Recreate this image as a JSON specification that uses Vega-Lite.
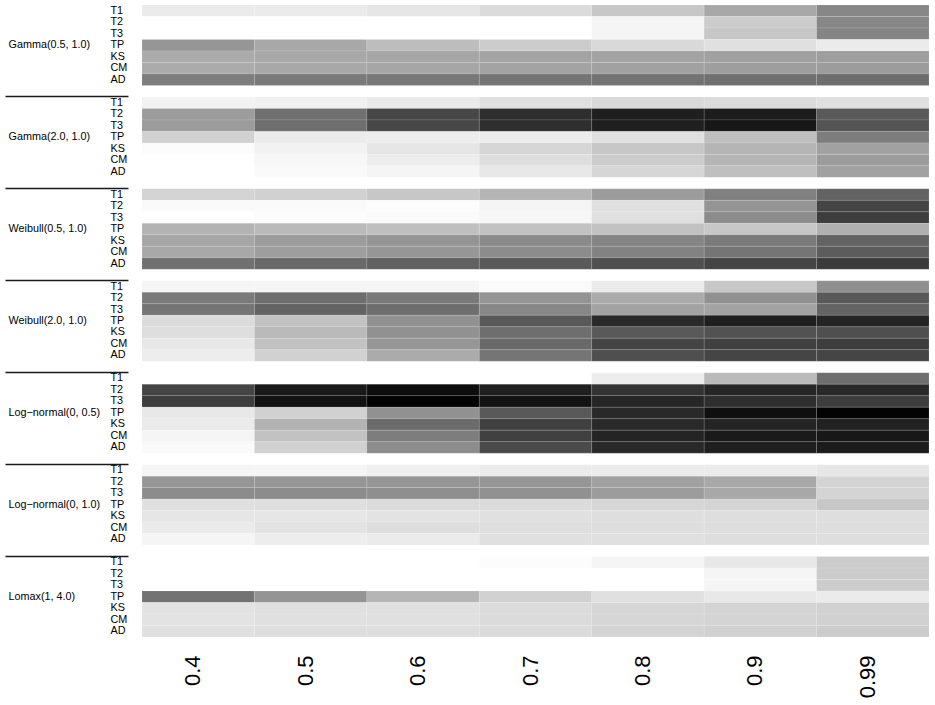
{
  "$schema": "https://vega.github.io/schema/vega-lite/v6.json",
  "width": 787,
  "height": 632,
  "autosize": "none",
  "padding": {"left": 142, "top": 5, "right": 6, "bottom": 68},
  "background": "#ffffff",
  "config": {"view": {"stroke": null}, "font": "Liberation Sans"},
  "data": {"values": [
    {"dist":"Gamma(0.5, 1.0)","test":"T1","level":"0.4","power":0.08},{"dist":"Gamma(0.5, 1.0)","test":"T1","level":"0.5","power":0.08},{"dist":"Gamma(0.5, 1.0)","test":"T1","level":"0.6","power":0.10},{"dist":"Gamma(0.5, 1.0)","test":"T1","level":"0.7","power":0.14},{"dist":"Gamma(0.5, 1.0)","test":"T1","level":"0.8","power":0.22},{"dist":"Gamma(0.5, 1.0)","test":"T1","level":"0.9","power":0.34},{"dist":"Gamma(0.5, 1.0)","test":"T1","level":"0.99","power":0.47},
    {"dist":"Gamma(0.5, 1.0)","test":"T2","level":"0.4","power":0.0},{"dist":"Gamma(0.5, 1.0)","test":"T2","level":"0.5","power":0.0},{"dist":"Gamma(0.5, 1.0)","test":"T2","level":"0.6","power":0.0},{"dist":"Gamma(0.5, 1.0)","test":"T2","level":"0.7","power":0.0},{"dist":"Gamma(0.5, 1.0)","test":"T2","level":"0.8","power":0.04},{"dist":"Gamma(0.5, 1.0)","test":"T2","level":"0.9","power":0.20},{"dist":"Gamma(0.5, 1.0)","test":"T2","level":"0.99","power":0.47},
    {"dist":"Gamma(0.5, 1.0)","test":"T3","level":"0.4","power":0.0},{"dist":"Gamma(0.5, 1.0)","test":"T3","level":"0.5","power":0.0},{"dist":"Gamma(0.5, 1.0)","test":"T3","level":"0.6","power":0.0},{"dist":"Gamma(0.5, 1.0)","test":"T3","level":"0.7","power":0.0},{"dist":"Gamma(0.5, 1.0)","test":"T3","level":"0.8","power":0.04},{"dist":"Gamma(0.5, 1.0)","test":"T3","level":"0.9","power":0.22},{"dist":"Gamma(0.5, 1.0)","test":"T3","level":"0.99","power":0.48},
    {"dist":"Gamma(0.5, 1.0)","test":"TP","level":"0.4","power":0.41},{"dist":"Gamma(0.5, 1.0)","test":"TP","level":"0.5","power":0.34},{"dist":"Gamma(0.5, 1.0)","test":"TP","level":"0.6","power":0.26},{"dist":"Gamma(0.5, 1.0)","test":"TP","level":"0.7","power":0.20},{"dist":"Gamma(0.5, 1.0)","test":"TP","level":"0.8","power":0.15},{"dist":"Gamma(0.5, 1.0)","test":"TP","level":"0.9","power":0.12},{"dist":"Gamma(0.5, 1.0)","test":"TP","level":"0.99","power":0.08},
    {"dist":"Gamma(0.5, 1.0)","test":"KS","level":"0.4","power":0.33},{"dist":"Gamma(0.5, 1.0)","test":"KS","level":"0.5","power":0.34},{"dist":"Gamma(0.5, 1.0)","test":"KS","level":"0.6","power":0.35},{"dist":"Gamma(0.5, 1.0)","test":"KS","level":"0.7","power":0.36},{"dist":"Gamma(0.5, 1.0)","test":"KS","level":"0.8","power":0.36},{"dist":"Gamma(0.5, 1.0)","test":"KS","level":"0.9","power":0.37},{"dist":"Gamma(0.5, 1.0)","test":"KS","level":"0.99","power":0.38},
    {"dist":"Gamma(0.5, 1.0)","test":"CM","level":"0.4","power":0.33},{"dist":"Gamma(0.5, 1.0)","test":"CM","level":"0.5","power":0.34},{"dist":"Gamma(0.5, 1.0)","test":"CM","level":"0.6","power":0.35},{"dist":"Gamma(0.5, 1.0)","test":"CM","level":"0.7","power":0.36},{"dist":"Gamma(0.5, 1.0)","test":"CM","level":"0.8","power":0.37},{"dist":"Gamma(0.5, 1.0)","test":"CM","level":"0.9","power":0.38},{"dist":"Gamma(0.5, 1.0)","test":"CM","level":"0.99","power":0.39},
    {"dist":"Gamma(0.5, 1.0)","test":"AD","level":"0.4","power":0.51},{"dist":"Gamma(0.5, 1.0)","test":"AD","level":"0.5","power":0.52},{"dist":"Gamma(0.5, 1.0)","test":"AD","level":"0.6","power":0.53},{"dist":"Gamma(0.5, 1.0)","test":"AD","level":"0.7","power":0.54},{"dist":"Gamma(0.5, 1.0)","test":"AD","level":"0.8","power":0.55},{"dist":"Gamma(0.5, 1.0)","test":"AD","level":"0.9","power":0.56},{"dist":"Gamma(0.5, 1.0)","test":"AD","level":"0.99","power":0.57},

    {"dist":"Gamma(2.0, 1.0)","test":"T1","level":"0.4","power":0.05},{"dist":"Gamma(2.0, 1.0)","test":"T1","level":"0.5","power":0.06},{"dist":"Gamma(2.0, 1.0)","test":"T1","level":"0.6","power":0.08},{"dist":"Gamma(2.0, 1.0)","test":"T1","level":"0.7","power":0.12},{"dist":"Gamma(2.0, 1.0)","test":"T1","level":"0.8","power":0.15},{"dist":"Gamma(2.0, 1.0)","test":"T1","level":"0.9","power":0.14},{"dist":"Gamma(2.0, 1.0)","test":"T1","level":"0.99","power":0.12},
    {"dist":"Gamma(2.0, 1.0)","test":"T2","level":"0.4","power":0.39},{"dist":"Gamma(2.0, 1.0)","test":"T2","level":"0.5","power":0.56},{"dist":"Gamma(2.0, 1.0)","test":"T2","level":"0.6","power":0.72},{"dist":"Gamma(2.0, 1.0)","test":"T2","level":"0.7","power":0.82},{"dist":"Gamma(2.0, 1.0)","test":"T2","level":"0.8","power":0.88},{"dist":"Gamma(2.0, 1.0)","test":"T2","level":"0.9","power":0.89},{"dist":"Gamma(2.0, 1.0)","test":"T2","level":"0.99","power":0.65},
    {"dist":"Gamma(2.0, 1.0)","test":"T3","level":"0.4","power":0.39},{"dist":"Gamma(2.0, 1.0)","test":"T3","level":"0.5","power":0.57},{"dist":"Gamma(2.0, 1.0)","test":"T3","level":"0.6","power":0.72},{"dist":"Gamma(2.0, 1.0)","test":"T3","level":"0.7","power":0.82},{"dist":"Gamma(2.0, 1.0)","test":"T3","level":"0.8","power":0.88},{"dist":"Gamma(2.0, 1.0)","test":"T3","level":"0.9","power":0.91},{"dist":"Gamma(2.0, 1.0)","test":"T3","level":"0.99","power":0.67},
    {"dist":"Gamma(2.0, 1.0)","test":"TP","level":"0.4","power":0.18},{"dist":"Gamma(2.0, 1.0)","test":"TP","level":"0.5","power":0.08},{"dist":"Gamma(2.0, 1.0)","test":"TP","level":"0.6","power":0.07},{"dist":"Gamma(2.0, 1.0)","test":"TP","level":"0.7","power":0.07},{"dist":"Gamma(2.0, 1.0)","test":"TP","level":"0.8","power":0.12},{"dist":"Gamma(2.0, 1.0)","test":"TP","level":"0.9","power":0.25},{"dist":"Gamma(2.0, 1.0)","test":"TP","level":"0.99","power":0.51},
    {"dist":"Gamma(2.0, 1.0)","test":"KS","level":"0.4","power":0.01},{"dist":"Gamma(2.0, 1.0)","test":"KS","level":"0.5","power":0.05},{"dist":"Gamma(2.0, 1.0)","test":"KS","level":"0.6","power":0.10},{"dist":"Gamma(2.0, 1.0)","test":"KS","level":"0.7","power":0.16},{"dist":"Gamma(2.0, 1.0)","test":"KS","level":"0.8","power":0.22},{"dist":"Gamma(2.0, 1.0)","test":"KS","level":"0.9","power":0.29},{"dist":"Gamma(2.0, 1.0)","test":"KS","level":"0.99","power":0.37},
    {"dist":"Gamma(2.0, 1.0)","test":"CM","level":"0.4","power":0.0},{"dist":"Gamma(2.0, 1.0)","test":"CM","level":"0.5","power":0.03},{"dist":"Gamma(2.0, 1.0)","test":"CM","level":"0.6","power":0.07},{"dist":"Gamma(2.0, 1.0)","test":"CM","level":"0.7","power":0.13},{"dist":"Gamma(2.0, 1.0)","test":"CM","level":"0.8","power":0.20},{"dist":"Gamma(2.0, 1.0)","test":"CM","level":"0.9","power":0.29},{"dist":"Gamma(2.0, 1.0)","test":"CM","level":"0.99","power":0.39},
    {"dist":"Gamma(2.0, 1.0)","test":"AD","level":"0.4","power":0.0},{"dist":"Gamma(2.0, 1.0)","test":"AD","level":"0.5","power":0.02},{"dist":"Gamma(2.0, 1.0)","test":"AD","level":"0.6","power":0.04},{"dist":"Gamma(2.0, 1.0)","test":"AD","level":"0.7","power":0.09},{"dist":"Gamma(2.0, 1.0)","test":"AD","level":"0.8","power":0.16},{"dist":"Gamma(2.0, 1.0)","test":"AD","level":"0.9","power":0.25},{"dist":"Gamma(2.0, 1.0)","test":"AD","level":"0.99","power":0.37},

    {"dist":"Weibull(0.5, 1.0)","test":"T1","level":"0.4","power":0.17},{"dist":"Weibull(0.5, 1.0)","test":"T1","level":"0.5","power":0.18},{"dist":"Weibull(0.5, 1.0)","test":"T1","level":"0.6","power":0.22},{"dist":"Weibull(0.5, 1.0)","test":"T1","level":"0.7","power":0.29},{"dist":"Weibull(0.5, 1.0)","test":"T1","level":"0.8","power":0.39},{"dist":"Weibull(0.5, 1.0)","test":"T1","level":"0.9","power":0.50},{"dist":"Weibull(0.5, 1.0)","test":"T1","level":"0.99","power":0.61},
    {"dist":"Weibull(0.5, 1.0)","test":"T2","level":"0.4","power":0.02},{"dist":"Weibull(0.5, 1.0)","test":"T2","level":"0.5","power":0.02},{"dist":"Weibull(0.5, 1.0)","test":"T2","level":"0.6","power":0.01},{"dist":"Weibull(0.5, 1.0)","test":"T2","level":"0.7","power":0.04},{"dist":"Weibull(0.5, 1.0)","test":"T2","level":"0.8","power":0.12},{"dist":"Weibull(0.5, 1.0)","test":"T2","level":"0.9","power":0.42},{"dist":"Weibull(0.5, 1.0)","test":"T2","level":"0.99","power":0.73},
    {"dist":"Weibull(0.5, 1.0)","test":"T3","level":"0.4","power":0.0},{"dist":"Weibull(0.5, 1.0)","test":"T3","level":"0.5","power":0.01},{"dist":"Weibull(0.5, 1.0)","test":"T3","level":"0.6","power":0.02},{"dist":"Weibull(0.5, 1.0)","test":"T3","level":"0.7","power":0.03},{"dist":"Weibull(0.5, 1.0)","test":"T3","level":"0.8","power":0.12},{"dist":"Weibull(0.5, 1.0)","test":"T3","level":"0.9","power":0.45},{"dist":"Weibull(0.5, 1.0)","test":"T3","level":"0.99","power":0.76},
    {"dist":"Weibull(0.5, 1.0)","test":"TP","level":"0.4","power":0.30},{"dist":"Weibull(0.5, 1.0)","test":"TP","level":"0.5","power":0.27},{"dist":"Weibull(0.5, 1.0)","test":"TP","level":"0.6","power":0.25},{"dist":"Weibull(0.5, 1.0)","test":"TP","level":"0.7","power":0.24},{"dist":"Weibull(0.5, 1.0)","test":"TP","level":"0.8","power":0.24},{"dist":"Weibull(0.5, 1.0)","test":"TP","level":"0.9","power":0.22},{"dist":"Weibull(0.5, 1.0)","test":"TP","level":"0.99","power":0.31},
    {"dist":"Weibull(0.5, 1.0)","test":"KS","level":"0.4","power":0.35},{"dist":"Weibull(0.5, 1.0)","test":"KS","level":"0.5","power":0.39},{"dist":"Weibull(0.5, 1.0)","test":"KS","level":"0.6","power":0.42},{"dist":"Weibull(0.5, 1.0)","test":"KS","level":"0.7","power":0.46},{"dist":"Weibull(0.5, 1.0)","test":"KS","level":"0.8","power":0.48},{"dist":"Weibull(0.5, 1.0)","test":"KS","level":"0.9","power":0.52},{"dist":"Weibull(0.5, 1.0)","test":"KS","level":"0.99","power":0.61},
    {"dist":"Weibull(0.5, 1.0)","test":"CM","level":"0.4","power":0.34},{"dist":"Weibull(0.5, 1.0)","test":"CM","level":"0.5","power":0.38},{"dist":"Weibull(0.5, 1.0)","test":"CM","level":"0.6","power":0.41},{"dist":"Weibull(0.5, 1.0)","test":"CM","level":"0.7","power":0.45},{"dist":"Weibull(0.5, 1.0)","test":"CM","level":"0.8","power":0.49},{"dist":"Weibull(0.5, 1.0)","test":"CM","level":"0.9","power":0.54},{"dist":"Weibull(0.5, 1.0)","test":"CM","level":"0.99","power":0.64},
    {"dist":"Weibull(0.5, 1.0)","test":"AD","level":"0.4","power":0.56},{"dist":"Weibull(0.5, 1.0)","test":"AD","level":"0.5","power":0.59},{"dist":"Weibull(0.5, 1.0)","test":"AD","level":"0.6","power":0.62},{"dist":"Weibull(0.5, 1.0)","test":"AD","level":"0.7","power":0.65},{"dist":"Weibull(0.5, 1.0)","test":"AD","level":"0.8","power":0.69},{"dist":"Weibull(0.5, 1.0)","test":"AD","level":"0.9","power":0.73},{"dist":"Weibull(0.5, 1.0)","test":"AD","level":"0.99","power":0.77},

    {"dist":"Weibull(2.0, 1.0)","test":"T1","level":"0.4","power":0.04},{"dist":"Weibull(2.0, 1.0)","test":"T1","level":"0.5","power":0.04},{"dist":"Weibull(2.0, 1.0)","test":"T1","level":"0.6","power":0.04},{"dist":"Weibull(2.0, 1.0)","test":"T1","level":"0.7","power":0.02},{"dist":"Weibull(2.0, 1.0)","test":"T1","level":"0.8","power":0.08},{"dist":"Weibull(2.0, 1.0)","test":"T1","level":"0.9","power":0.22},{"dist":"Weibull(2.0, 1.0)","test":"T1","level":"0.99","power":0.44},
    {"dist":"Weibull(2.0, 1.0)","test":"T2","level":"0.4","power":0.52},{"dist":"Weibull(2.0, 1.0)","test":"T2","level":"0.5","power":0.57},{"dist":"Weibull(2.0, 1.0)","test":"T2","level":"0.6","power":0.53},{"dist":"Weibull(2.0, 1.0)","test":"T2","level":"0.7","power":0.42},{"dist":"Weibull(2.0, 1.0)","test":"T2","level":"0.8","power":0.33},{"dist":"Weibull(2.0, 1.0)","test":"T2","level":"0.9","power":0.43},{"dist":"Weibull(2.0, 1.0)","test":"T2","level":"0.99","power":0.65},
    {"dist":"Weibull(2.0, 1.0)","test":"T3","level":"0.4","power":0.54},{"dist":"Weibull(2.0, 1.0)","test":"T3","level":"0.5","power":0.61},{"dist":"Weibull(2.0, 1.0)","test":"T3","level":"0.6","power":0.57},{"dist":"Weibull(2.0, 1.0)","test":"T3","level":"0.7","power":0.47},{"dist":"Weibull(2.0, 1.0)","test":"T3","level":"0.8","power":0.36},{"dist":"Weibull(2.0, 1.0)","test":"T3","level":"0.9","power":0.36},{"dist":"Weibull(2.0, 1.0)","test":"T3","level":"0.99","power":0.61},
    {"dist":"Weibull(2.0, 1.0)","test":"TP","level":"0.4","power":0.14},{"dist":"Weibull(2.0, 1.0)","test":"TP","level":"0.5","power":0.24},{"dist":"Weibull(2.0, 1.0)","test":"TP","level":"0.6","power":0.43},{"dist":"Weibull(2.0, 1.0)","test":"TP","level":"0.7","power":0.65},{"dist":"Weibull(2.0, 1.0)","test":"TP","level":"0.8","power":0.84},{"dist":"Weibull(2.0, 1.0)","test":"TP","level":"0.9","power":0.88},{"dist":"Weibull(2.0, 1.0)","test":"TP","level":"0.99","power":0.86},
    {"dist":"Weibull(2.0, 1.0)","test":"KS","level":"0.4","power":0.13},{"dist":"Weibull(2.0, 1.0)","test":"KS","level":"0.5","power":0.27},{"dist":"Weibull(2.0, 1.0)","test":"KS","level":"0.6","power":0.43},{"dist":"Weibull(2.0, 1.0)","test":"KS","level":"0.7","power":0.57},{"dist":"Weibull(2.0, 1.0)","test":"KS","level":"0.8","power":0.65},{"dist":"Weibull(2.0, 1.0)","test":"KS","level":"0.9","power":0.68},{"dist":"Weibull(2.0, 1.0)","test":"KS","level":"0.99","power":0.69},
    {"dist":"Weibull(2.0, 1.0)","test":"CM","level":"0.4","power":0.09},{"dist":"Weibull(2.0, 1.0)","test":"CM","level":"0.5","power":0.24},{"dist":"Weibull(2.0, 1.0)","test":"CM","level":"0.6","power":0.41},{"dist":"Weibull(2.0, 1.0)","test":"CM","level":"0.7","power":0.59},{"dist":"Weibull(2.0, 1.0)","test":"CM","level":"0.8","power":0.73},{"dist":"Weibull(2.0, 1.0)","test":"CM","level":"0.9","power":0.75},{"dist":"Weibull(2.0, 1.0)","test":"CM","level":"0.99","power":0.76},
    {"dist":"Weibull(2.0, 1.0)","test":"AD","level":"0.4","power":0.07},{"dist":"Weibull(2.0, 1.0)","test":"AD","level":"0.5","power":0.18},{"dist":"Weibull(2.0, 1.0)","test":"AD","level":"0.6","power":0.33},{"dist":"Weibull(2.0, 1.0)","test":"AD","level":"0.7","power":0.54},{"dist":"Weibull(2.0, 1.0)","test":"AD","level":"0.8","power":0.69},{"dist":"Weibull(2.0, 1.0)","test":"AD","level":"0.9","power":0.73},{"dist":"Weibull(2.0, 1.0)","test":"AD","level":"0.99","power":0.73},

    {"dist":"Log−normal(0, 0.5)","test":"T1","level":"0.4","power":0.0},{"dist":"Log−normal(0, 0.5)","test":"T1","level":"0.5","power":0.0},{"dist":"Log−normal(0, 0.5)","test":"T1","level":"0.6","power":0.0},{"dist":"Log−normal(0, 0.5)","test":"T1","level":"0.7","power":0.0},{"dist":"Log−normal(0, 0.5)","test":"T1","level":"0.8","power":0.07},{"dist":"Log−normal(0, 0.5)","test":"T1","level":"0.9","power":0.27},{"dist":"Log−normal(0, 0.5)","test":"T1","level":"0.99","power":0.57},
    {"dist":"Log−normal(0, 0.5)","test":"T2","level":"0.4","power":0.73},{"dist":"Log−normal(0, 0.5)","test":"T2","level":"0.5","power":0.90},{"dist":"Log−normal(0, 0.5)","test":"T2","level":"0.6","power":0.95},{"dist":"Log−normal(0, 0.5)","test":"T2","level":"0.7","power":0.88},{"dist":"Log−normal(0, 0.5)","test":"T2","level":"0.8","power":0.80},{"dist":"Log−normal(0, 0.5)","test":"T2","level":"0.9","power":0.85},{"dist":"Log−normal(0, 0.5)","test":"T2","level":"0.99","power":0.84},
    {"dist":"Log−normal(0, 0.5)","test":"T3","level":"0.4","power":0.76},{"dist":"Log−normal(0, 0.5)","test":"T3","level":"0.5","power":0.93},{"dist":"Log−normal(0, 0.5)","test":"T3","level":"0.6","power":0.99},{"dist":"Log−normal(0, 0.5)","test":"T3","level":"0.7","power":0.93},{"dist":"Log−normal(0, 0.5)","test":"T3","level":"0.8","power":0.85},{"dist":"Log−normal(0, 0.5)","test":"T3","level":"0.9","power":0.82},{"dist":"Log−normal(0, 0.5)","test":"T3","level":"0.99","power":0.76},
    {"dist":"Log−normal(0, 0.5)","test":"TP","level":"0.4","power":0.09},{"dist":"Log−normal(0, 0.5)","test":"TP","level":"0.5","power":0.18},{"dist":"Log−normal(0, 0.5)","test":"TP","level":"0.6","power":0.43},{"dist":"Log−normal(0, 0.5)","test":"TP","level":"0.7","power":0.65},{"dist":"Log−normal(0, 0.5)","test":"TP","level":"0.8","power":0.84},{"dist":"Log−normal(0, 0.5)","test":"TP","level":"0.9","power":0.94},{"dist":"Log−normal(0, 0.5)","test":"TP","level":"0.99","power":0.99},
    {"dist":"Log−normal(0, 0.5)","test":"KS","level":"0.4","power":0.08},{"dist":"Log−normal(0, 0.5)","test":"KS","level":"0.5","power":0.30},{"dist":"Log−normal(0, 0.5)","test":"KS","level":"0.6","power":0.58},{"dist":"Log−normal(0, 0.5)","test":"KS","level":"0.7","power":0.75},{"dist":"Log−normal(0, 0.5)","test":"KS","level":"0.8","power":0.84},{"dist":"Log−normal(0, 0.5)","test":"KS","level":"0.9","power":0.86},{"dist":"Log−normal(0, 0.5)","test":"KS","level":"0.99","power":0.87},
    {"dist":"Log−normal(0, 0.5)","test":"CM","level":"0.4","power":0.04},{"dist":"Log−normal(0, 0.5)","test":"CM","level":"0.5","power":0.24},{"dist":"Log−normal(0, 0.5)","test":"CM","level":"0.6","power":0.51},{"dist":"Log−normal(0, 0.5)","test":"CM","level":"0.7","power":0.75},{"dist":"Log−normal(0, 0.5)","test":"CM","level":"0.8","power":0.86},{"dist":"Log−normal(0, 0.5)","test":"CM","level":"0.9","power":0.90},{"dist":"Log−normal(0, 0.5)","test":"CM","level":"0.99","power":0.91},
    {"dist":"Log−normal(0, 0.5)","test":"AD","level":"0.4","power":0.02},{"dist":"Log−normal(0, 0.5)","test":"AD","level":"0.5","power":0.18},{"dist":"Log−normal(0, 0.5)","test":"AD","level":"0.6","power":0.45},{"dist":"Log−normal(0, 0.5)","test":"AD","level":"0.7","power":0.71},{"dist":"Log−normal(0, 0.5)","test":"AD","level":"0.8","power":0.84},{"dist":"Log−normal(0, 0.5)","test":"AD","level":"0.9","power":0.88},{"dist":"Log−normal(0, 0.5)","test":"AD","level":"0.99","power":0.89},

    {"dist":"Log−normal(0, 1.0)","test":"T1","level":"0.4","power":0.04},{"dist":"Log−normal(0, 1.0)","test":"T1","level":"0.5","power":0.04},{"dist":"Log−normal(0, 1.0)","test":"T1","level":"0.6","power":0.06},{"dist":"Log−normal(0, 1.0)","test":"T1","level":"0.7","power":0.08},{"dist":"Log−normal(0, 1.0)","test":"T1","level":"0.8","power":0.08},{"dist":"Log−normal(0, 1.0)","test":"T1","level":"0.9","power":0.08},{"dist":"Log−normal(0, 1.0)","test":"T1","level":"0.99","power":0.10},
    {"dist":"Log−normal(0, 1.0)","test":"T2","level":"0.4","power":0.41},{"dist":"Log−normal(0, 1.0)","test":"T2","level":"0.5","power":0.41},{"dist":"Log−normal(0, 1.0)","test":"T2","level":"0.6","power":0.41},{"dist":"Log−normal(0, 1.0)","test":"T2","level":"0.7","power":0.41},{"dist":"Log−normal(0, 1.0)","test":"T2","level":"0.8","power":0.37},{"dist":"Log−normal(0, 1.0)","test":"T2","level":"0.9","power":0.34},{"dist":"Log−normal(0, 1.0)","test":"T2","level":"0.99","power":0.17},
    {"dist":"Log−normal(0, 1.0)","test":"T3","level":"0.4","power":0.45},{"dist":"Log−normal(0, 1.0)","test":"T3","level":"0.5","power":0.45},{"dist":"Log−normal(0, 1.0)","test":"T3","level":"0.6","power":0.44},{"dist":"Log−normal(0, 1.0)","test":"T3","level":"0.7","power":0.43},{"dist":"Log−normal(0, 1.0)","test":"T3","level":"0.8","power":0.39},{"dist":"Log−normal(0, 1.0)","test":"T3","level":"0.9","power":0.34},{"dist":"Log−normal(0, 1.0)","test":"T3","level":"0.99","power":0.17},
    {"dist":"Log−normal(0, 1.0)","test":"TP","level":"0.4","power":0.12},{"dist":"Log−normal(0, 1.0)","test":"TP","level":"0.5","power":0.13},{"dist":"Log−normal(0, 1.0)","test":"TP","level":"0.6","power":0.14},{"dist":"Log−normal(0, 1.0)","test":"TP","level":"0.7","power":0.14},{"dist":"Log−normal(0, 1.0)","test":"TP","level":"0.8","power":0.16},{"dist":"Log−normal(0, 1.0)","test":"TP","level":"0.9","power":0.17},{"dist":"Log−normal(0, 1.0)","test":"TP","level":"0.99","power":0.22},
    {"dist":"Log−normal(0, 1.0)","test":"KS","level":"0.4","power":0.10},{"dist":"Log−normal(0, 1.0)","test":"KS","level":"0.5","power":0.10},{"dist":"Log−normal(0, 1.0)","test":"KS","level":"0.6","power":0.11},{"dist":"Log−normal(0, 1.0)","test":"KS","level":"0.7","power":0.12},{"dist":"Log−normal(0, 1.0)","test":"KS","level":"0.8","power":0.13},{"dist":"Log−normal(0, 1.0)","test":"KS","level":"0.9","power":0.13},{"dist":"Log−normal(0, 1.0)","test":"KS","level":"0.99","power":0.13},
    {"dist":"Log−normal(0, 1.0)","test":"CM","level":"0.4","power":0.08},{"dist":"Log−normal(0, 1.0)","test":"CM","level":"0.5","power":0.11},{"dist":"Log−normal(0, 1.0)","test":"CM","level":"0.6","power":0.13},{"dist":"Log−normal(0, 1.0)","test":"CM","level":"0.7","power":0.13},{"dist":"Log−normal(0, 1.0)","test":"CM","level":"0.8","power":0.13},{"dist":"Log−normal(0, 1.0)","test":"CM","level":"0.9","power":0.13},{"dist":"Log−normal(0, 1.0)","test":"CM","level":"0.99","power":0.13},
    {"dist":"Log−normal(0, 1.0)","test":"AD","level":"0.4","power":0.04},{"dist":"Log−normal(0, 1.0)","test":"AD","level":"0.5","power":0.07},{"dist":"Log−normal(0, 1.0)","test":"AD","level":"0.6","power":0.08},{"dist":"Log−normal(0, 1.0)","test":"AD","level":"0.7","power":0.12},{"dist":"Log−normal(0, 1.0)","test":"AD","level":"0.8","power":0.12},{"dist":"Log−normal(0, 1.0)","test":"AD","level":"0.9","power":0.13},{"dist":"Log−normal(0, 1.0)","test":"AD","level":"0.99","power":0.13},

    {"dist":"Lomax(1, 4.0)","test":"T1","level":"0.4","power":0.0},{"dist":"Lomax(1, 4.0)","test":"T1","level":"0.5","power":0.0},{"dist":"Lomax(1, 4.0)","test":"T1","level":"0.6","power":0.0},{"dist":"Lomax(1, 4.0)","test":"T1","level":"0.7","power":0.01},{"dist":"Lomax(1, 4.0)","test":"T1","level":"0.8","power":0.04},{"dist":"Lomax(1, 4.0)","test":"T1","level":"0.9","power":0.09},{"dist":"Lomax(1, 4.0)","test":"T1","level":"0.99","power":0.20},
    {"dist":"Lomax(1, 4.0)","test":"T2","level":"0.4","power":0.0},{"dist":"Lomax(1, 4.0)","test":"T2","level":"0.5","power":0.0},{"dist":"Lomax(1, 4.0)","test":"T2","level":"0.6","power":0.0},{"dist":"Lomax(1, 4.0)","test":"T2","level":"0.7","power":0.0},{"dist":"Lomax(1, 4.0)","test":"T2","level":"0.8","power":0.0},{"dist":"Lomax(1, 4.0)","test":"T2","level":"0.9","power":0.04},{"dist":"Lomax(1, 4.0)","test":"T2","level":"0.99","power":0.20},
    {"dist":"Lomax(1, 4.0)","test":"T3","level":"0.4","power":0.0},{"dist":"Lomax(1, 4.0)","test":"T3","level":"0.5","power":0.0},{"dist":"Lomax(1, 4.0)","test":"T3","level":"0.6","power":0.0},{"dist":"Lomax(1, 4.0)","test":"T3","level":"0.7","power":0.0},{"dist":"Lomax(1, 4.0)","test":"T3","level":"0.8","power":0.0},{"dist":"Lomax(1, 4.0)","test":"T3","level":"0.9","power":0.04},{"dist":"Lomax(1, 4.0)","test":"T3","level":"0.99","power":0.20},
    {"dist":"Lomax(1, 4.0)","test":"TP","level":"0.4","power":0.55},{"dist":"Lomax(1, 4.0)","test":"TP","level":"0.5","power":0.42},{"dist":"Lomax(1, 4.0)","test":"TP","level":"0.6","power":0.29},{"dist":"Lomax(1, 4.0)","test":"TP","level":"0.7","power":0.18},{"dist":"Lomax(1, 4.0)","test":"TP","level":"0.8","power":0.12},{"dist":"Lomax(1, 4.0)","test":"TP","level":"0.9","power":0.09},{"dist":"Lomax(1, 4.0)","test":"TP","level":"0.99","power":0.08},
    {"dist":"Lomax(1, 4.0)","test":"KS","level":"0.4","power":0.11},{"dist":"Lomax(1, 4.0)","test":"KS","level":"0.5","power":0.12},{"dist":"Lomax(1, 4.0)","test":"KS","level":"0.6","power":0.12},{"dist":"Lomax(1, 4.0)","test":"KS","level":"0.7","power":0.14},{"dist":"Lomax(1, 4.0)","test":"KS","level":"0.8","power":0.16},{"dist":"Lomax(1, 4.0)","test":"KS","level":"0.9","power":0.17},{"dist":"Lomax(1, 4.0)","test":"KS","level":"0.99","power":0.18},
    {"dist":"Lomax(1, 4.0)","test":"CM","level":"0.4","power":0.11},{"dist":"Lomax(1, 4.0)","test":"CM","level":"0.5","power":0.12},{"dist":"Lomax(1, 4.0)","test":"CM","level":"0.6","power":0.12},{"dist":"Lomax(1, 4.0)","test":"CM","level":"0.7","power":0.14},{"dist":"Lomax(1, 4.0)","test":"CM","level":"0.8","power":0.16},{"dist":"Lomax(1, 4.0)","test":"CM","level":"0.9","power":0.17},{"dist":"Lomax(1, 4.0)","test":"CM","level":"0.99","power":0.18},
    {"dist":"Lomax(1, 4.0)","test":"AD","level":"0.4","power":0.12},{"dist":"Lomax(1, 4.0)","test":"AD","level":"0.5","power":0.13},{"dist":"Lomax(1, 4.0)","test":"AD","level":"0.6","power":0.13},{"dist":"Lomax(1, 4.0)","test":"AD","level":"0.7","power":0.14},{"dist":"Lomax(1, 4.0)","test":"AD","level":"0.8","power":0.17},{"dist":"Lomax(1, 4.0)","test":"AD","level":"0.9","power":0.18},{"dist":"Lomax(1, 4.0)","test":"AD","level":"0.99","power":0.20}
  ]},
  "transform": [{"calculate": "datum.dist + '|' + datum.test", "as": "key"}],
  "layer": [
    {
      "mark": {"type": "rect", "stroke": "#ffffff", "strokeWidth": 0.6, "strokeOpacity": 0.2},
      "encoding": {
        "x": {
          "field": "level", "type": "nominal", "title": null,
          "scale": {"domain": ["0.4","0.5","0.6","0.7","0.8","0.9","0.99"], "paddingInner": 0, "paddingOuter": 0},
          "axis": {"orient": "bottom", "labelAngle": 270, "labelFontSize": 22, "labelFont": "Liberation Sans", "labelColor": "#000000", "ticks": false, "domain": false, "labelPadding": 18, "labelOffset": -5}
        },
        "y": {
          "field": "key", "type": "nominal", "title": null,
          "scale": {"domain": [
            "Gamma(0.5, 1.0)|T1","Gamma(0.5, 1.0)|T2","Gamma(0.5, 1.0)|T3","Gamma(0.5, 1.0)|TP","Gamma(0.5, 1.0)|KS","Gamma(0.5, 1.0)|CM","Gamma(0.5, 1.0)|AD","g1",
            "Gamma(2.0, 1.0)|T1","Gamma(2.0, 1.0)|T2","Gamma(2.0, 1.0)|T3","Gamma(2.0, 1.0)|TP","Gamma(2.0, 1.0)|KS","Gamma(2.0, 1.0)|CM","Gamma(2.0, 1.0)|AD","g2",
            "Weibull(0.5, 1.0)|T1","Weibull(0.5, 1.0)|T2","Weibull(0.5, 1.0)|T3","Weibull(0.5, 1.0)|TP","Weibull(0.5, 1.0)|KS","Weibull(0.5, 1.0)|CM","Weibull(0.5, 1.0)|AD","g3",
            "Weibull(2.0, 1.0)|T1","Weibull(2.0, 1.0)|T2","Weibull(2.0, 1.0)|T3","Weibull(2.0, 1.0)|TP","Weibull(2.0, 1.0)|KS","Weibull(2.0, 1.0)|CM","Weibull(2.0, 1.0)|AD","g4",
            "Log−normal(0, 0.5)|T1","Log−normal(0, 0.5)|T2","Log−normal(0, 0.5)|T3","Log−normal(0, 0.5)|TP","Log−normal(0, 0.5)|KS","Log−normal(0, 0.5)|CM","Log−normal(0, 0.5)|AD","g5",
            "Log−normal(0, 1.0)|T1","Log−normal(0, 1.0)|T2","Log−normal(0, 1.0)|T3","Log−normal(0, 1.0)|TP","Log−normal(0, 1.0)|KS","Log−normal(0, 1.0)|CM","Log−normal(0, 1.0)|AD","g6",
            "Lomax(1, 4.0)|T1","Lomax(1, 4.0)|T2","Lomax(1, 4.0)|T3","Lomax(1, 4.0)|TP","Lomax(1, 4.0)|KS","Lomax(1, 4.0)|CM","Lomax(1, 4.0)|AD"
          ], "paddingInner": 0, "paddingOuter": 0},
          "axis": {"orient": "left", "labelExpr": "indexof(datum.value, '|') > 0 ? split(datum.value, '|')[1] : ''", "labelAlign": "left", "labelBaseline": "middle", "labelPadding": 32, "ticks": false, "tickSize": 0, "domain": false, "labelFontSize": 10.8, "labelFont": "Liberation Sans", "labelColor": "#000000"}
        },
        "color": {"field": "power", "type": "quantitative", "legend": null, "scale": {"domain": [0, 1], "range": ["#ffffff", "#000000"], "interpolate": "rgb"}}
      }
    },
    {
      "mark": {"type": "rect", "opacity": 0},
      "encoding": {
        "x": {"field": "level", "type": "nominal"},
        "y": {
          "field": "key", "type": "nominal", "title": null,
          "scale": {"domain": [
            "Gamma(0.5, 1.0)|T1","Gamma(0.5, 1.0)|T2","Gamma(0.5, 1.0)|T3","Gamma(0.5, 1.0)|TP","Gamma(0.5, 1.0)|KS","Gamma(0.5, 1.0)|CM","Gamma(0.5, 1.0)|AD","g1",
            "Gamma(2.0, 1.0)|T1","Gamma(2.0, 1.0)|T2","Gamma(2.0, 1.0)|T3","Gamma(2.0, 1.0)|TP","Gamma(2.0, 1.0)|KS","Gamma(2.0, 1.0)|CM","Gamma(2.0, 1.0)|AD","g2",
            "Weibull(0.5, 1.0)|T1","Weibull(0.5, 1.0)|T2","Weibull(0.5, 1.0)|T3","Weibull(0.5, 1.0)|TP","Weibull(0.5, 1.0)|KS","Weibull(0.5, 1.0)|CM","Weibull(0.5, 1.0)|AD","g3",
            "Weibull(2.0, 1.0)|T1","Weibull(2.0, 1.0)|T2","Weibull(2.0, 1.0)|T3","Weibull(2.0, 1.0)|TP","Weibull(2.0, 1.0)|KS","Weibull(2.0, 1.0)|CM","Weibull(2.0, 1.0)|AD","g4",
            "Log−normal(0, 0.5)|T1","Log−normal(0, 0.5)|T2","Log−normal(0, 0.5)|T3","Log−normal(0, 0.5)|TP","Log−normal(0, 0.5)|KS","Log−normal(0, 0.5)|CM","Log−normal(0, 0.5)|AD","g5",
            "Log−normal(0, 1.0)|T1","Log−normal(0, 1.0)|T2","Log−normal(0, 1.0)|T3","Log−normal(0, 1.0)|TP","Log−normal(0, 1.0)|KS","Log−normal(0, 1.0)|CM","Log−normal(0, 1.0)|AD","g6",
            "Lomax(1, 4.0)|T1","Lomax(1, 4.0)|T2","Lomax(1, 4.0)|T3","Lomax(1, 4.0)|TP","Lomax(1, 4.0)|KS","Lomax(1, 4.0)|CM","Lomax(1, 4.0)|AD"
          ], "paddingInner": 0, "paddingOuter": 0},
          "axis": {"orient": "left", "values": ["Gamma(0.5, 1.0)|TP","Gamma(2.0, 1.0)|TP","Weibull(0.5, 1.0)|TP","Weibull(2.0, 1.0)|TP","Log−normal(0, 0.5)|TP","Log−normal(0, 1.0)|TP","Lomax(1, 4.0)|TP"], "labelExpr": "split(datum.value, '|')[0]", "labelAlign": "left", "labelBaseline": "middle", "labelPadding": 134, "ticks": false, "tickSize": 0, "domain": false, "labelFontSize": 10.8, "labelFont": "Liberation Sans", "labelColor": "#000000", "labelLimit": 200}
        }
      }
    },
    {
      "mark": {"type": "rect", "opacity": 0},
      "encoding": {
        "x": {"field": "level", "type": "nominal"},
        "y": {
          "field": "key", "type": "nominal", "title": null,
          "scale": {"domain": [
            "Gamma(0.5, 1.0)|T1","Gamma(0.5, 1.0)|T2","Gamma(0.5, 1.0)|T3","Gamma(0.5, 1.0)|TP","Gamma(0.5, 1.0)|KS","Gamma(0.5, 1.0)|CM","Gamma(0.5, 1.0)|AD","g1",
            "Gamma(2.0, 1.0)|T1","Gamma(2.0, 1.0)|T2","Gamma(2.0, 1.0)|T3","Gamma(2.0, 1.0)|TP","Gamma(2.0, 1.0)|KS","Gamma(2.0, 1.0)|CM","Gamma(2.0, 1.0)|AD","g2",
            "Weibull(0.5, 1.0)|T1","Weibull(0.5, 1.0)|T2","Weibull(0.5, 1.0)|T3","Weibull(0.5, 1.0)|TP","Weibull(0.5, 1.0)|KS","Weibull(0.5, 1.0)|CM","Weibull(0.5, 1.0)|AD","g3",
            "Weibull(2.0, 1.0)|T1","Weibull(2.0, 1.0)|T2","Weibull(2.0, 1.0)|T3","Weibull(2.0, 1.0)|TP","Weibull(2.0, 1.0)|KS","Weibull(2.0, 1.0)|CM","Weibull(2.0, 1.0)|AD","g4",
            "Log−normal(0, 0.5)|T1","Log−normal(0, 0.5)|T2","Log−normal(0, 0.5)|T3","Log−normal(0, 0.5)|TP","Log−normal(0, 0.5)|KS","Log−normal(0, 0.5)|CM","Log−normal(0, 0.5)|AD","g5",
            "Log−normal(0, 1.0)|T1","Log−normal(0, 1.0)|T2","Log−normal(0, 1.0)|T3","Log−normal(0, 1.0)|TP","Log−normal(0, 1.0)|KS","Log−normal(0, 1.0)|CM","Log−normal(0, 1.0)|AD","g6",
            "Lomax(1, 4.0)|T1","Lomax(1, 4.0)|T2","Lomax(1, 4.0)|T3","Lomax(1, 4.0)|TP","Lomax(1, 4.0)|KS","Lomax(1, 4.0)|CM","Lomax(1, 4.0)|AD"
          ], "paddingInner": 0, "paddingOuter": 0},
          "axis": {"orient": "left", "values": ["g1","g2","g3","g4","g5","g6"], "labels": false, "domain": false, "ticks": true, "tickSize": 123, "tickWidth": 1.3, "tickColor": "#1a1a1a", "bandPosition": 1, "offset": 14}
        }
      }
    }
  ],
  "resolve": {"scale": {"y": "independent"}, "axis": {"y": "independent"}}
}
